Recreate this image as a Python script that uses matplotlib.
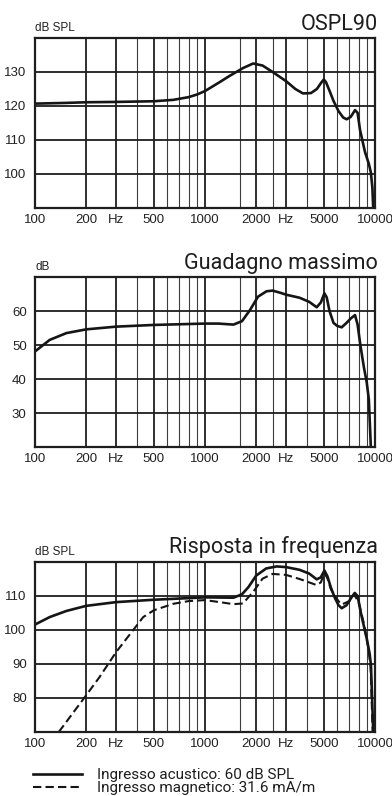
import matplotlib
matplotlib.use('Agg')
import matplotlib.pyplot as plt
from matplotlib import font_manager
from matplotlib.ticker import FixedLocator, NullFormatter

# --- data ---
ospl_freq = [100, 150, 200, 300, 500, 650, 800, 900, 1000, 1200, 1400, 1680, 1920, 2180, 2500, 3000,
             3400, 3770, 4200, 4550, 4850, 5000, 5150, 5400, 5700, 6100, 6500, 6810, 7200, 7630, 7900,
             8160, 8730, 9200, 9450, 9650, 9780]
ospl_db = [120.7, 120.9, 121.1, 121.2, 121.4, 121.8, 122.6, 123.4, 124.4, 126.8, 128.9, 131.2, 132.5, 131.9,
           130.0, 127.3, 125.0, 123.7, 123.8, 125.0, 127.0, 127.8, 127.0, 124.5, 121.5, 118.5, 116.6, 116.1,
           116.8, 118.8, 118.0, 113.0, 106.5, 103.0, 100.5, 96.0, 89.0]

gain_freq = [100, 122, 153, 200, 300, 500, 1000, 1200, 1470, 1650, 1840, 2050, 2300, 2500, 2800, 3000,
             3600, 4100, 4540, 4800, 5040, 5200, 5400, 5700, 6000, 6370, 6800, 7200, 7630, 7900, 8200,
             8600, 8940, 9200, 9470]
gain_db = [48.1, 51.5, 53.5, 54.6, 55.4, 55.9, 56.3, 56.3, 56.0, 57.0, 60.3, 64.2, 65.8, 66.0, 65.3, 64.8,
           63.9, 62.7, 61.1, 62.5, 65.2, 64.0, 60.0, 56.5, 55.6, 55.2, 56.5, 57.8, 58.8, 56.0, 50.0,
           43.5, 39.0, 34.0, 19.0]

resp_freq = [100, 122, 153, 200, 300, 500, 1000, 1470, 1650, 1800, 2000, 2290, 2640, 3000, 3600, 4100,
             4540, 4800, 5040, 5250, 5500, 5800, 6100, 6370, 6800, 7300, 7600, 7900, 8300, 8940, 9300,
             9470, 9780]
resp_acoustic = [101.6, 103.8, 105.6, 107.1, 108.2, 108.9, 109.6, 109.5, 110.5, 112.6, 116.0, 118.1, 118.7,
                 118.5, 117.7, 116.6, 114.9, 115.5, 117.5, 115.8, 112.5, 109.5, 107.3, 106.4, 107.3, 109.7,
                 110.9, 110.0, 104.5, 97.5, 93.0, 89.6, 69.0]

mag_freq = [138, 200, 240, 300, 377, 433, 500, 650, 800, 1000, 1220, 1470, 1670, 1920, 2180, 2500, 3000,
            3600, 4100, 4540, 4800, 5040, 5250, 5500, 5800, 6100, 6370, 7060, 7550, 8060, 8600, 9150,
            9420, 9700]
resp_magnetic = [70.0, 80.8, 86.2, 93.5, 99.9, 103.8, 105.8, 107.7, 108.5, 108.8, 108.2, 107.6, 107.8,
                 111.2, 115.1, 116.5, 116.2, 115.0, 114.0, 113.2, 114.0, 116.8, 115.2, 112.0, 110.0, 108.5,
                 107.5, 108.5, 110.5, 107.7, 101.9, 94.5, 89.1, 69.0]

x_ticks = [100, 200, 300, 500, 1000, 2000, 3000, 5000, 10000]
x_labels = ['100', '200', 'Hz', '500', '1000', '2000', 'Hz', '5000', '10000']
x_thin = [400, 600, 700, 800, 900, 1600, 2500, 4000, 6000, 7000, 8000, 9000]

titles = ['OSPL90', 'Guadagno massimo', 'Risposta in frequenza']
units = ['dB SPL', 'dB', 'dB SPL']
y_ranges = [(90, 140), (20, 70), (70, 120)]
y_ticks = [[100, 110, 120, 130], [30, 40, 50, 60], [80, 90, 100, 110]]
legend_labels = ['Ingresso acustico: 60 dB SPL', 'Ingresso magnetico: 31.6 mA/m']

installed = {f.name for f in font_manager.fontManager.ttflist}
tick_font = 'Liberation Sans Narrow' if 'Liberation Sans Narrow' in installed else 'Liberation Sans'
title_font = 'Roboto'

W, H = 392, 796
fig = plt.figure(figsize=(W / 100, H / 100), dpi=100)

# panel boxes in pixels (top edge of each)
tops = [38, 277, 562]
left, right, box_h = 35, 375, 170

axes = []
for i, top in enumerate(tops):
    ax = fig.add_axes([left / W, 1 - (top + box_h) / H, (right - left) / W, box_h / H])
    ax.set_xscale('log')
    ax.set_xlim(100, 10000)
    ax.set_ylim(*y_ranges[i])
    ax.xaxis.set_major_locator(FixedLocator(x_ticks))
    ax.set_xticklabels(x_labels)
    ax.xaxis.set_minor_locator(FixedLocator(x_thin))
    ax.xaxis.set_minor_formatter(NullFormatter())
    ax.set_yticks(y_ticks[i])
    ax.tick_params(which='both', length=0)
    ax.tick_params(axis='x', pad=4)
    ax.tick_params(axis='y', pad=6)
    for lab in ax.get_xticklabels() + ax.get_yticklabels():
        lab.set_fontfamily(tick_font)
        lab.set_fontsize(9.5)
        lab.set_color('#222222')
    ax.grid(which='major', color='#1e1e1e', lw=1.3)
    ax.grid(which='minor', axis='x', color='#3c3c3c', lw=0.8)
    for s in ax.spines.values():
        s.set_linewidth(1.6)
        s.set_color('#1e1e1e')
    ax.text(1.008, 1.0 + 8.5 / box_h, titles[i], transform=ax.transAxes, ha='right', va='baseline',
            fontfamily=title_font, fontsize=15.6, color='#1e1e1e')
    ax.text(0.0, 1.0 + 7 / box_h, units[i], transform=ax.transAxes, ha='left', va='baseline',
            fontfamily=tick_font, fontsize=8.5, color='#222222')
    axes.append(ax)

axes[0].plot(ospl_freq, ospl_db, color='#151515', lw=1.9, solid_capstyle='butt')
axes[1].plot(gain_freq, gain_db, color='#151515', lw=1.9, solid_capstyle='butt')
l1, = axes[2].plot(resp_freq, resp_acoustic, color='#151515', lw=1.9, label=legend_labels[0])
l2, = axes[2].plot(mag_freq, resp_magnetic, color='#151515', lw=1.5, ls=(0, (4, 2)), label=legend_labels[1])

leg = fig.legend(handles=[l1, l2], loc='upper left', bbox_to_anchor=(33 / W, 1 - 768 / H),
                 frameon=False, handlelength=3.2, handletextpad=1.0, labelspacing=-0.04,
                 borderpad=0, borderaxespad=0,
                 prop={'family': title_font, 'size': 11})
for t in leg.get_texts():
    t.set_color('#1e1e1e')

fig.savefig('out.png', dpi=100)
